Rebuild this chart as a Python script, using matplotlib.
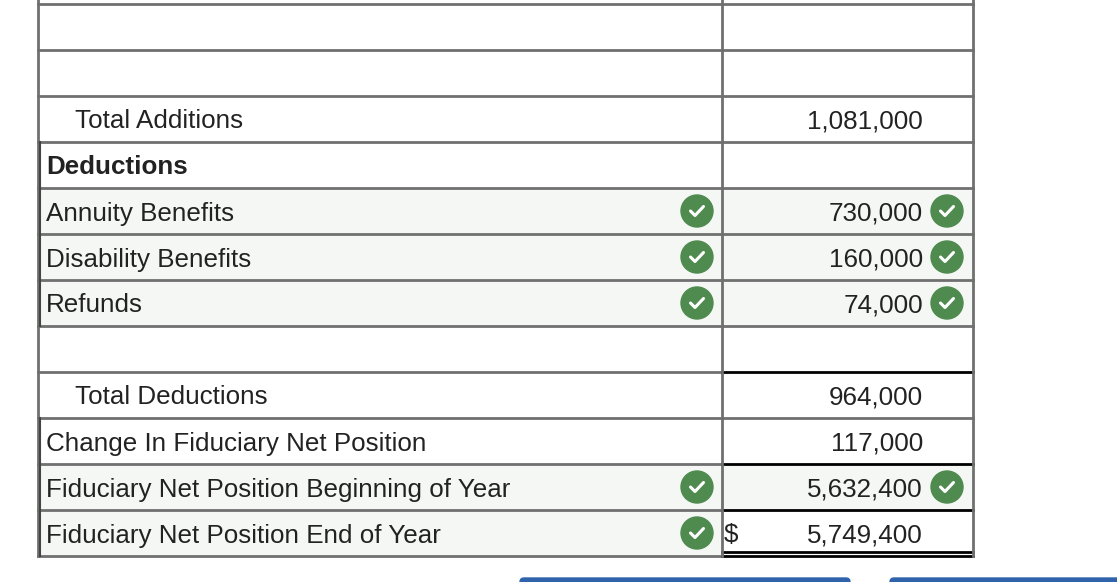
import matplotlib
matplotlib.use("Agg")
import matplotlib.pyplot as plt
from matplotlib.patches import Rectangle, Circle, FancyBboxPatch

labels = ["", "", "Total Additions", "Deductions", "Annuity Benefits", "Disability Benefits",
          "Refunds", "", "Total Deductions", "Change In Fiduciary Net Position",
          "Fiduciary Net Position Beginning of Year", "Fiduciary Net Position End of Year"]
values = ["", "", "1,081,000", "", "730,000", "160,000", "74,000", "", "964,000",
          "117,000", "5,632,400", "5,749,400"]
indented = [False, False, True, False, False, False, False, False, True, False, False, False]
bold = [False, False, False, True, False, False, False, False, False, False, False, False]
left_check = [False]*4 + [True, True, True] + [False]*3 + [True, True]
right_check = [False]*4 + [True, True, True] + [False]*3 + [True, False]
shade_left = [False]*4 + [True, True, True] + [False]*3 + [True, True]
shade_right = [False]*4 + [True, True, True] + [False]*3 + [True, False]
dollar = [False]*11 + [True]

W, H = 1117, 582
fig = plt.figure(figsize=(W/100, H/100), dpi=100)
ax = fig.add_axes([0, 0, 1, 1])
ax.set_xlim(0, W); ax.set_ylim(H, 0); ax.axis("off")

x0, xm, x1 = 38, 722, 973
y0, rh = 4, 46.0
green = "#4f8a4f"; shade = "#f4f7f3"; gray = "#707070"
font = dict(family="Liberation Sans", fontsize=18.7, color="#222222")

def check(cx, cy):
    ax.add_patch(Circle((cx, cy), 16, color=green, zorder=3))
    ax.plot([cx-6.5, cx-2, cx+6.5], [cy, cy+4.5, cy-4.5], color="white", lw=2.2,
            solid_capstyle="round", solid_joinstyle="round", zorder=4)

for i, lab in enumerate(labels):
    top = y0 + i*rh; cy = top + rh/2
    if shade_left[i]:
        ax.add_patch(Rectangle((x0, top), xm-x0, rh, color=shade, zorder=0))
    if shade_right[i]:
        ax.add_patch(Rectangle((xm, top), x1-xm, rh, color=shade, zorder=0))
    tx = x0 + (37 if indented[i] else 8)
    ty = cy + 2.5
    ax.text(tx, ty, lab, va="center", ha="left", fontweight="bold" if bold[i] else "normal", **font)
    ax.text(923, ty, values[i], va="center", ha="right", **font)
    if dollar[i]:
        ax.text(724, ty, "$", va="center", ha="left", **font)
    if left_check[i]:
        check(697, cy)
    if right_check[i]:
        check(947, cy)

nrows = len(labels)
ybot = y0 + nrows*rh
for i in range(nrows):
    y = y0 + i*rh
    ax.plot([x0, xm], [y, y], color=gray, lw=2, zorder=2)
    col = "black" if i in (8, 10, 11) else gray
    ax.plot([xm, x1], [y, y], color=col, lw=2, zorder=2)
ax.plot([x0, xm], [ybot, ybot], color=gray, lw=2, zorder=2)
ax.plot([xm, x1], [ybot-4, ybot-4], color="black", lw=2, zorder=2)
ax.plot([xm, x1], [ybot, ybot], color="black", lw=2, zorder=2)
for x in (x0, xm, x1):
    ax.plot([x, x], [0, ybot], color=gray, lw=2, zorder=2)
ax.plot([x0+2, x0+2], [y0+3*rh, y0+7*rh], color="#444444", lw=1.5, zorder=2)
ax.plot([x0+2, x0+2], [y0+9*rh, y0+12*rh], color="#444444", lw=1.5, zorder=2)

for bx, bw in ((520, 330), (890, 240)):
    ax.add_patch(FancyBboxPatch((bx, 578), bw, 20, boxstyle="round,pad=0,rounding_size=4",
                                color="#2f64ad", zorder=1))

fig.savefig("out.png", dpi=100)
